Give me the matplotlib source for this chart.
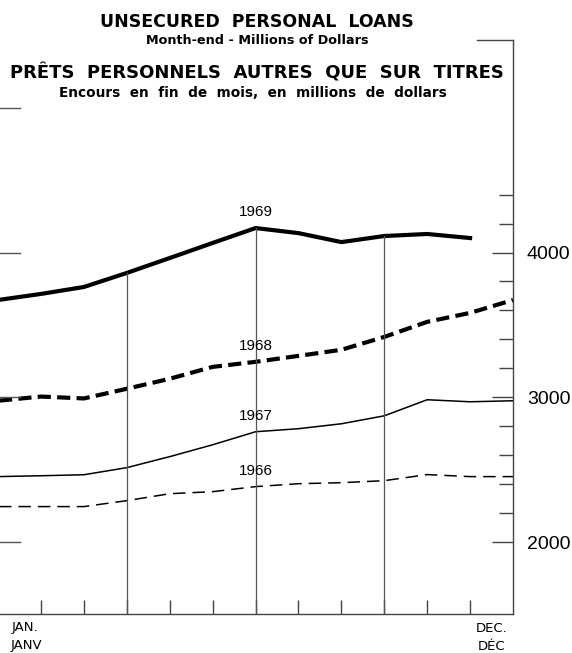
import numpy as np
import matplotlib
matplotlib.use('Agg')
import matplotlib.pyplot as plt
from matplotlib import font_manager

plt.rcParams['lines.scale_dashes'] = False

# month positions: -1 is December of the previous year
month_pos = np.arange(-1, 12)

dec_1965 = 2245
loans_1966 = [2245, 2245, 2286, 2334, 2348, 2383, 2403, 2410, 2424, 2466, 2452, 2452]
loans_1967 = [2458, 2465, 2514, 2590, 2672, 2762, 2783, 2817, 2872, 2983, 2969, 2976]
loans_1968 = [3005, 2992, 3059, 3128, 3210, 3245, 3286, 3328, 3417, 3521, 3583, 3672]
loans_1969 = [3714, 3762, 3859, 3962, 4066, 4169, 4134, 4072, 4114, 4128, 4100]

year_labels = ['1966', '1967', '1968', '1969']
grid_months = [2, 5, 8]  # Mar, Jun, Sep
y_labels = [2000, 3000, 4000]

names = {f.name for f in font_manager.fontManager.ttflist}
narrow = 'Liberation Sans Narrow' in names
num_font = 'Liberation Sans Narrow' if narrow else 'Liberation Sans'
num_size = 17 if narrow else 14
lab_size = 12.5 if narrow else 11

fig = plt.figure(figsize=(5.72, 6.53), dpi=100)
ax = fig.add_axes([0, 39 / 653, 513 / 572, 574 / 653])

series = [
    ([dec_1965] + loans_1966, dict(color='black', lw=1.1, dashes=(9, 5))),
    ([loans_1966[-1]] + loans_1967, dict(color='black', lw=1.1)),
    ([loans_1967[-1]] + loans_1968, dict(color='black', lw=3.0, dashes=(9.5, 4.5))),
    ([loans_1968[-1]] + loans_1969, dict(color='black', lw=3.0, solid_joinstyle='miter')),
]
for (vals, style), lab in zip(series, year_labels):
    x = month_pos[:len(vals)]
    ax.plot(x, vals, **style)
    ax.annotate(lab, xy=(5, vals[6]), xytext=(0, 11.5), textcoords='offset points',
                ha='center', va='center', fontsize=lab_size, family=num_font)

ylo, yhi = 1503, 5468
ax.set_xlim(-0.956, 11)
ax.set_ylim(ylo, yhi)

# quarter lines run up to the 1969 curve
for m in grid_months:
    ax.plot([m, m], [ylo, loans_1969[m]], color='#555555', lw=0.9)

for side in ['left', 'top']:
    ax.spines[side].set_visible(False)
for side in ['right', 'bottom']:
    ax.spines[side].set_color('#444444')
    ax.spines[side].set_linewidth(1.0)
ax.plot([477 / 513, 1], [1, 1], transform=ax.transAxes, color='#444444', lw=1.0, clip_on=False)

ax.yaxis.tick_right()
ax.set_yticks(y_labels)
ax.set_yticklabels([str(v) for v in y_labels], family=num_font, fontsize=num_size)
ax.set_yticks([v for v in range(2200, 4600, 200) if v not in y_labels], minor=True)
ax.tick_params(axis='y', which='major', direction='in', length=15, width=1.0,
               color='#444444', pad=10, right=True, left=False)
ax.tick_params(axis='y', which='minor', direction='in', length=10, width=1.0,
               color='#444444', right=True, left=False)

# left edge stubs at the thousands
for v in [2000, 3000, 4000, 5000]:
    ax.plot([0, 20 / 513], [v, v], transform=ax.get_yaxis_transform(), color='#555555', lw=1.0)

ax.set_xticks(range(0, 11))
ax.set_xticklabels([])
ax.tick_params(axis='x', direction='in', length=10, width=1.0, color='#444444')

tr = ax.get_xaxis_transform()
mfont = dict(fontsize=9.5, family='DejaVu Sans', va='center', ha='right')
ax.text(-0.07, -14 / 574, 'JAN.', transform=tr, **mfont)
ax.text(0.02, -32 / 574, 'JANV', transform=tr, **mfont)
ax.text(10.88, -14 / 574, 'DEC.', transform=tr, **mfont)
ax.text(10.83, -32 / 574, 'DÉC', transform=tr, **mfont)

cx = 257 / 572
fig.text(cx, 1 - 22 / 653, 'UNSECURED  PERSONAL  LOANS', ha='center', va='center',
         fontsize=12.5, fontweight='bold')
fig.text(cx, 1 - 41 / 653, 'Month-end - Millions of Dollars', ha='center', va='center',
         fontsize=9.2, fontweight='bold')
fig.text(cx, 1 - 73 / 653, 'PRÊTS  PERSONNELS  AUTRES  QUE  SUR  TITRES', ha='center', va='center',
         fontsize=13, fontweight='bold')
fig.text(cx - 4 / 572, 1 - 93 / 653, 'Encours  en  fin  de  mois,  en  millions  de  dollars',
         ha='center', va='center', fontsize=9.8, fontweight='bold')

fig.savefig('out.png', dpi=100)
